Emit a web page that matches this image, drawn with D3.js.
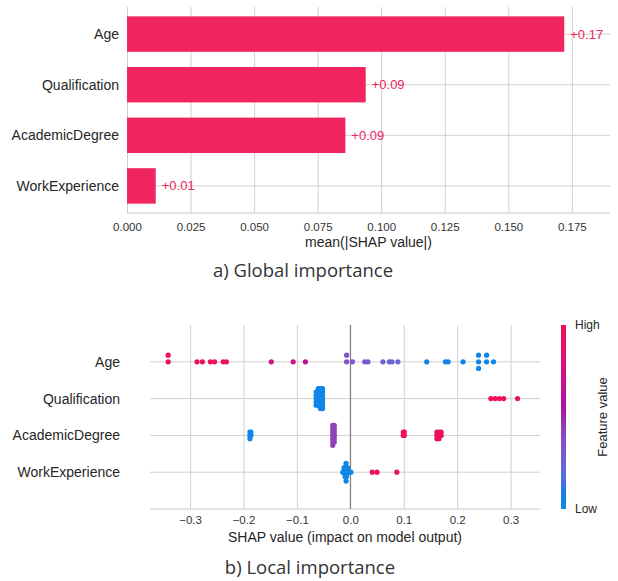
<!DOCTYPE html>
<html>
<head>
<meta charset="utf-8">
<script src="https://cdn.jsdelivr.net/npm/d3@7"></script>
<style>
  body { margin: 0; background: #fff; }
  svg { display: block; font-family: "Liberation Sans", Arial, sans-serif; }
  .grid line { stroke: #d0d0d0; stroke-width: 1; }
  .grid path { display: none; }
  .ticks path, .ticks line { display: none; }
  .ticks text { font-size: 11.5px; fill: #333; }
</style>
</head>
<body>
<svg id="chart" width="618" height="581"></svg>
<script>
// features, top to bottom
const features = ["Age", "Qualification", "AcademicDegree", "WorkExperience"];

// a) mean(|SHAP|) per feature
const meanAbsShap = [0.172, 0.0939, 0.0859, 0.0113];
const barLabels = ["+0.17", "+0.09", "+0.09", "+0.01"];
const globalTicks = [0, 0.025, 0.05, 0.075, 0.1, 0.125, 0.15, 0.175];

// b) per-sample SHAP values and (normalised) feature values
const localTicks = [-0.3, -0.2, -0.1, 0, 0.1, 0.2, 0.3];

const ageShap = [-0.341, -0.341, -0.287, -0.277, -0.262, -0.254, -0.238, -0.232,
  -0.148, -0.107, -0.084, -0.007, -0.007, 0.004, 0.027, 0.033, 0.061, 0.073, 0.078,
  0.089, 0.143, 0.178, 0.183, 0.211, 0.240, 0.240, 0.240, 0.255, 0.255, 0.268];
const ageFeat = [1, 1, 1, 1, 1, 1, 1, 1,
  0.76, 0.72, 0.64, 0.34, 0.34, 0.32, 0.3, 0.3, 0.28, 0.26, 0.26,
  0.24, 0.05, 0.03, 0.03, 0.02, 0, 0, 0, 0, 0, 0];

const qualShap = [-0.064, -0.064, -0.064, -0.064, -0.064,
  -0.060, -0.060, -0.060, -0.060, -0.060, -0.060,
  -0.056, -0.056, -0.056, -0.056, -0.056, -0.056, -0.056,
  -0.052, -0.052, -0.052, -0.052, -0.052, -0.052, -0.052,
  0.263, 0.271, 0.279, 0.287, 0.313];
const qualFeat = [0, 0, 0, 0, 0, 0, 0, 0, 0, 0, 0, 0, 0, 0, 0, 0, 0, 0, 0, 0, 0, 0, 0, 0, 0,
  1, 1, 1, 1, 1];

const acadShap = [-0.188, -0.188, -0.188, -0.186, -0.186,
  -0.033, -0.033, -0.033, -0.033, -0.033, -0.033, -0.033,
  -0.030, -0.030, -0.030, -0.030, -0.030, -0.030,
  0.099, 0.099, 0.101, 0.101,
  0.162, 0.162, 0.162, 0.166, 0.166, 0.166, 0.170, 0.170];
const acadFeat = [0, 0, 0, 0, 0,
  0.42, 0.42, 0.42, 0.42, 0.42, 0.42, 0.42, 0.42, 0.42, 0.42, 0.42, 0.42, 0.42,
  1, 1, 1, 1, 1, 1, 1, 1, 1, 1, 1, 1];

const workShap = [-0.014, -0.013, -0.012, -0.012, -0.011, -0.011,
  -0.010, -0.010, -0.010, -0.009, -0.009, -0.009,
  -0.008, -0.008, -0.008, -0.008, -0.008, -0.007, -0.007, -0.007,
  -0.006, -0.006, -0.005, -0.005, -0.003, -0.002, 0.001,
  0.041, 0.050, 0.087];
const workFeat = [0, 0, 0, 0, 0, 0, 0, 0, 0, 0, 0, 0, 0, 0, 0, 0, 0, 0, 0, 0, 0, 0, 0, 0, 0, 0, 0,
  1, 1, 1];

const localShap = [ageShap, qualShap, acadShap, workShap];
const localFeat = [ageFeat, qualFeat, acadFeat, workFeat];

const barColor = "#f0245e";

// shap red_blue colormap: lch from blue to red with a darker middle
function featColor(t) {
  const h = 266.9 + t * 113.4;
  const c = 70 + t * 20;
  const l = t < 0.5 ? 54 - 28 * t : 40 + 28 * (t - 0.5);
  return d3.interpolateRgb(d3.hcl(h, c, l).formatHex(), "#7a7a7a")(0.14);
}

const svg = d3.select("#chart");

// ---------- a) global importance ----------
const gx = d3.scaleLinear().domain([0, 0.19]).range([127, 610]);
const gy = d3.scaleLinear().domain([-0.535, 3.535]).range([7, 213]);
const barH = 0.7 * (gy(1) - gy(0));

const gTop = svg.append("g");

gTop.append("g").attr("class", "grid")
  .attr("transform", `translate(0,${gy.range()[1]})`)
  .call(d3.axisBottom(gx).tickValues(globalTicks).tickSize(-(gy.range()[1] - gy.range()[0])).tickFormat(""));

gTop.selectAll(".hgrid").data(features).join("line")
  .attr("x1", gx.range()[0]).attr("x2", gx.range()[1])
  .attr("y1", (d, i) => gy(i)).attr("y2", (d, i) => gy(i))
  .attr("stroke", "#d0d0d0");

gTop.append("line")
  .attr("x1", gx.range()[0]).attr("x2", gx.range()[1])
  .attr("y1", gy.range()[1]).attr("y2", gy.range()[1])
  .attr("stroke", "#c8c8c8");

gTop.selectAll(".bar").data(meanAbsShap).join("rect")
  .attr("x", gx(0))
  .attr("y", (d, i) => gy(i) - barH / 2)
  .attr("width", d => gx(d) - gx(0))
  .attr("height", barH)
  .attr("fill", barColor);

gTop.selectAll(".blabel").data(meanAbsShap).join("text")
  .attr("x", d => gx(d) + 6)
  .attr("y", (d, i) => gy(i))
  .attr("dy", "0.35em")
  .attr("font-size", 13)
  .attr("fill", barColor)
  .text((d, i) => barLabels[i]);

gTop.selectAll(".ylabel").data(features).join("text")
  .attr("x", 119)
  .attr("y", (d, i) => gy(i))
  .attr("dy", "0.35em")
  .attr("text-anchor", "end")
  .attr("font-size", 14)
  .attr("fill", "#262626")
  .text(d => d);

gTop.append("g").attr("class", "ticks")
  .attr("transform", `translate(0,${gy.range()[1]})`)
  .call(d3.axisBottom(gx).tickValues(globalTicks).tickSize(0).tickPadding(10).tickFormat(d3.format(".3f")));

gTop.append("text")
  .attr("x", (gx.range()[0] + gx.range()[1]) / 2).attr("y", 242).attr("dy", "0.35em")
  .attr("text-anchor", "middle").attr("font-size", 14).attr("fill", "#262626")
  .text("mean(|SHAP value|)");

svg.append("text")
  .attr("x", 303).attr("y", 271).attr("dy", "0.35em")
  .attr("text-anchor", "middle")
  .attr("font-family", "'Open Sans', 'Noto Sans', sans-serif")
  .attr("font-size", 18.5).attr("fill", "#333")
  .text("a) Global importance");

// ---------- b) local importance ----------
const lx = d3.scaleLinear().domain([-0.375, 0.355]).range([150, 540]);
const ly = d3.scaleLinear().domain([-1, 4]).range([325, 509]);
const rowHeight = 0.4;

const gBot = svg.append("g");

gBot.append("g").attr("class", "grid")
  .attr("transform", `translate(0,${ly.range()[1]})`)
  .call(d3.axisBottom(lx).tickValues(localTicks).tickSize(-(ly.range()[1] - ly.range()[0])).tickFormat(""));

gBot.selectAll(".hgrid").data(features).join("line")
  .attr("x1", lx.range()[0]).attr("x2", lx.range()[1])
  .attr("y1", (d, i) => ly(i)).attr("y2", (d, i) => ly(i))
  .attr("stroke", "#d0d0d0");

gBot.append("line")
  .attr("x1", lx.range()[0]).attr("x2", lx.range()[1])
  .attr("y1", ly.range()[1]).attr("y2", ly.range()[1])
  .attr("stroke", "#c8c8c8");

gBot.append("line")
  .attr("x1", lx(0)).attr("x2", lx(0))
  .attr("y1", ly.range()[0]).attr("y2", ly.range()[1])
  .attr("stroke", "#707070");

// beeswarm offsets, same idea as shap: quantize then stack alternately
function swarm(vals) {
  const n = vals.length, nbins = 100;
  const mn = d3.min(vals), mx = d3.max(vals);
  const quant = vals.map(v => Math.round(nbins * (v - mn) / (mx - mn + 1e-8)));
  const inds = d3.range(n).sort((a, b) => quant[a] - quant[b] || a - b);
  const ys = new Array(n).fill(0);
  let layer = 0, last = -1;
  inds.forEach(ind => {
    if (quant[ind] !== last) layer = 0;
    ys[ind] = Math.ceil(layer / 2) * ((layer % 2) * 2 - 1);
    layer++;
    last = quant[ind];
  });
  const m = d3.max(ys.map(y => y + 1));
  return ys.map(y => y * 0.9 * (rowHeight / m));
}

const dots = [];
localShap.forEach((vals, row) => {
  const off = swarm(vals);
  vals.forEach((v, j) => dots.push({ v, row, off: off[j], f: localFeat[row][j] }));
});

gBot.selectAll(".dot").data(dots).join("circle")
  .attr("cx", d => lx(d.v))
  .attr("cy", d => ly(d.row - d.off))
  .attr("r", 2.6)
  .attr("fill", d => featColor(d.f));

gBot.selectAll(".ylabel").data(features).join("text")
  .attr("x", 120)
  .attr("y", (d, i) => ly(i))
  .attr("dy", "0.35em")
  .attr("text-anchor", "end")
  .attr("font-size", 14)
  .attr("fill", "#262626")
  .text(d => d);

gBot.append("g").attr("class", "ticks")
  .attr("transform", `translate(0,${ly.range()[1]})`)
  .call(d3.axisBottom(lx).tickValues(localTicks).tickSize(0).tickPadding(7).tickFormat(d3.format(".1f")));

gBot.append("text")
  .attr("x", (lx.range()[0] + lx.range()[1]) / 2).attr("y", 537).attr("dy", "0.35em")
  .attr("text-anchor", "middle").attr("font-size", 14).attr("fill", "#262626")
  .text("SHAP value (impact on model output)");

// colorbar
const grad = svg.append("defs").append("linearGradient")
  .attr("id", "cbar").attr("x1", 0).attr("y1", 1).attr("x2", 0).attr("y2", 0);
grad.selectAll("stop").data(d3.range(0, 1.0001, 0.05)).join("stop")
  .attr("offset", d => d).attr("stop-color", d => featColor(d));

const cb = d3.scaleLinear().domain([0, 1]).range([ly.range()[1], ly.range()[0]]);
gBot.append("rect")
  .attr("x", 561).attr("y", cb(1)).attr("width", 5).attr("height", cb(0) - cb(1))
  .attr("fill", "url(#cbar)");
gBot.append("text").attr("x", 575).attr("y", cb(1)).attr("dy", "0.35em")
  .attr("font-size", 12).attr("fill", "#262626").text("High");
gBot.append("text").attr("x", 575).attr("y", cb(0)).attr("dy", "0.35em")
  .attr("font-size", 12).attr("fill", "#262626").text("Low");
gBot.append("text")
  .attr("transform", `translate(602,${cb(0.5)}) rotate(-90)`)
  .attr("dy", "0.35em")
  .attr("text-anchor", "middle").attr("font-size", 13).attr("fill", "#262626")
  .text("Feature value");

svg.append("text")
  .attr("x", 310).attr("y", 568).attr("dy", "0.35em")
  .attr("text-anchor", "middle")
  .attr("font-family", "'Open Sans', 'Noto Sans', sans-serif")
  .attr("font-size", 18.5).attr("fill", "#333")
  .text("b) Local importance");
</script>
</body>
</html>
